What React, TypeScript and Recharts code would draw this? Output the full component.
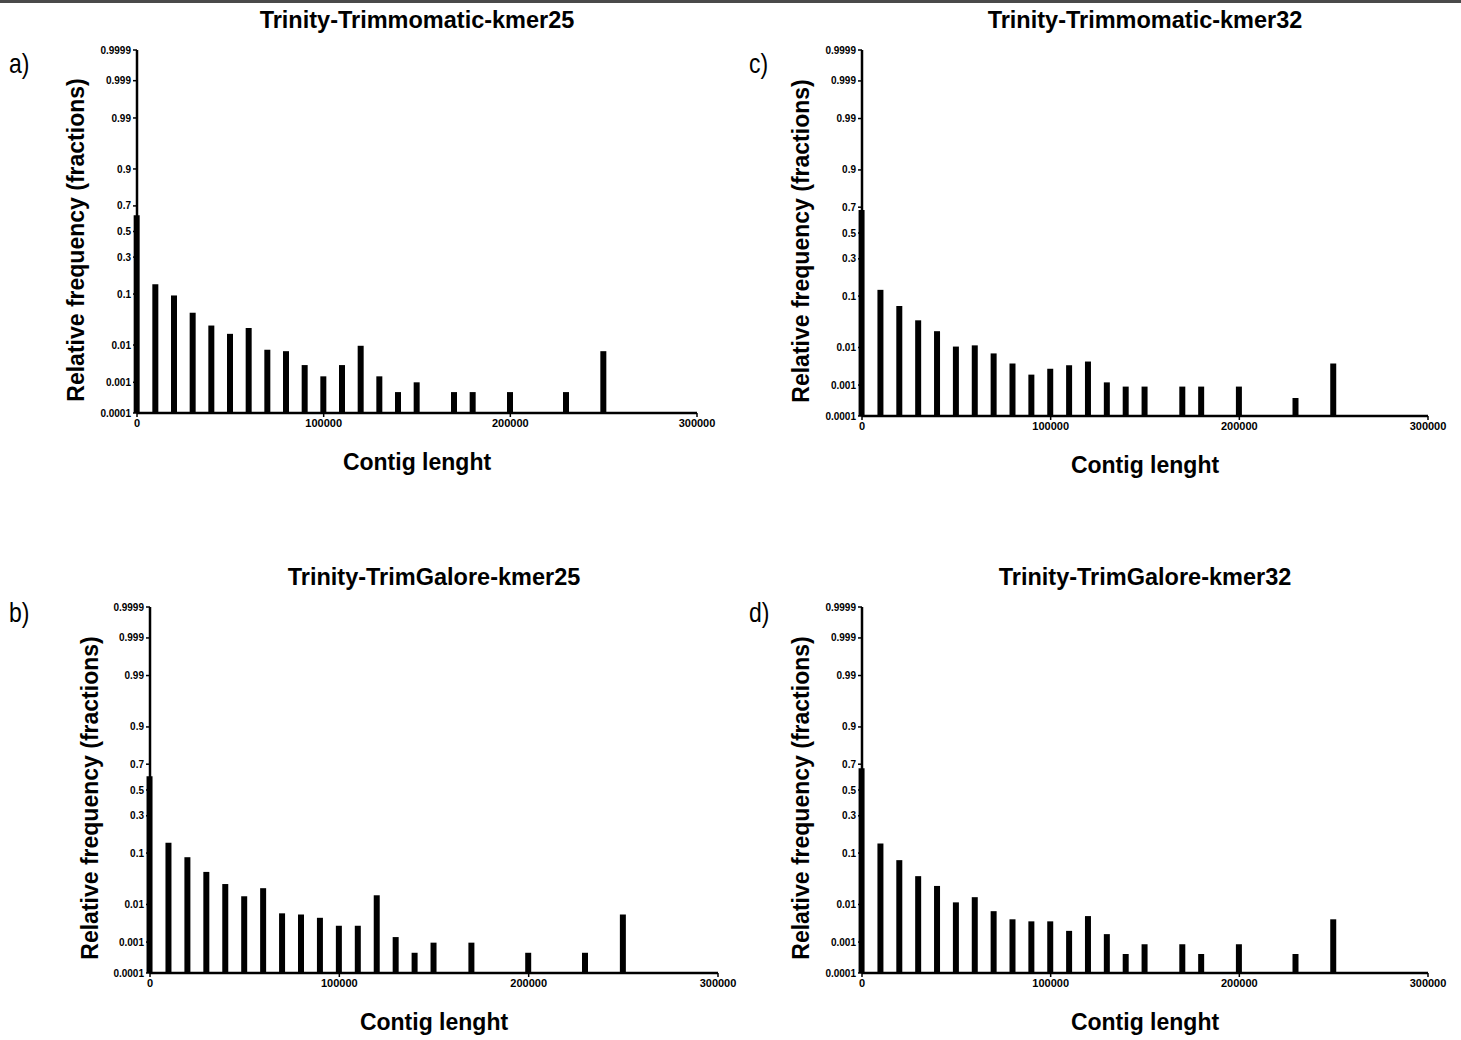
import { BarChart, Bar, XAxis, YAxis } from 'recharts';

// contig length bins (x), 10 kb steps
const BINS = [
  0, 10000, 20000, 30000, 40000, 50000, 60000, 70000, 80000, 90000, 100000,
  110000, 120000, 130000, 140000, 150000, 160000, 170000, 180000, 190000,
  200000, 210000, 220000, 230000, 240000, 250000,
];

// relative frequency per bin (null = empty bin)
const TRIMMOMATIC_K25 = [
  0.63, 0.14, 0.095, 0.048, 0.027, 0.018, 0.024, 0.0077, 0.0071, 0.0031, 0.0015,
  0.0031, 0.0096, 0.0015, 0.0005, 0.001, null, 0.0005, 0.0005, null,
  0.0005, null, null, 0.0005, null, 0.0071,
];
const TRIMMOMATIC_K32 = [
  0.68, 0.124, 0.069, 0.038, 0.023, 0.0105, 0.0112, 0.0072, 0.004, 0.002, 0.0029,
  0.0036, 0.0045, 0.0012, 0.0009, 0.0009, null, 0.0009, 0.0009, null,
  0.0009, null, null, 0.0004, null, 0.004,
];
const TRIMGALORE_K25 = [
  0.61, 0.142, 0.086, 0.048, 0.028, 0.0154, 0.023, 0.0061, 0.0057, 0.0047, 0.0029,
  0.0029, 0.0162, 0.0014, 0.00047, 0.00096, null, 0.00096, null, null,
  0.00047, null, null, 0.00047, null, 0.0057,
];
const TRIMGALORE_K32 = [
  0.67, 0.138, 0.077, 0.04, 0.0256, 0.0112, 0.0147, 0.0069, 0.0043, 0.0038, 0.0038,
  0.0021, 0.0052, 0.0017, 0.00043, 0.00086, null, 0.00086, 0.00043, null,
  0.00086, null, null, 0.00043, null, 0.0043,
];

const X_TICKS = [0, 100000, 200000, 300000];
const Y_TICK_LABELS = ['0.0001', '0.001', '0.01', '0.1', '0.3', '0.5', '0.7', '0.9', '0.99', '0.999', '0.9999'];

// inverse normal CDF (Acklam) -> probability axis
function probit(p: number) {
  const a = [-39.69683028665376, 220.9460984245205, -275.9285104469687, 138.357751867269, -30.66479806614716, 2.506628277459239];
  const b = [-54.47609879822406, 161.5858368580409, -155.6989798598866, 66.80131188771972, -13.28068155288572];
  const c = [-0.007784894002430293, -0.3223964580411365, -2.400758277161838, -2.549671010243, 4.374664141464968, 2.938163982698783];
  const d = [0.007784695709041462, 0.3224671290700398, 2.445134137142996, 3.754408661907416];
  const plow = 0.02425;
  if (p < plow) {
    const q = Math.sqrt(-2 * Math.log(p));
    return (((((c[0] * q + c[1]) * q + c[2]) * q + c[3]) * q + c[4]) * q + c[5]) /
      ((((d[0] * q + d[1]) * q + d[2]) * q + d[3]) * q + 1);
  }
  if (p <= 1 - plow) {
    const q = p - 0.5;
    const r = q * q;
    return ((((((a[0] * r + a[1]) * r + a[2]) * r + a[3]) * r + a[4]) * r + a[5]) * q) /
      (((((b[0] * r + b[1]) * r + b[2]) * r + b[3]) * r + b[4]) * r + 1);
  }
  const q = Math.sqrt(-2 * Math.log(1 - p));
  return -(((((c[0] * q + c[1]) * q + c[2]) * q + c[3]) * q + c[4]) * q + c[5]) /
    ((((d[0] * q + d[1]) * q + d[2]) * q + d[3]) * q + 1);
}

const Y_TICKS = Y_TICK_LABELS.map((l) => probit(Number(l)));
const Y_MIN = Y_TICKS[0];
const Y_MAX = Y_TICKS[Y_TICKS.length - 1];

const FONT = '"Liberation Sans", Arial, Helvetica, sans-serif';

interface PanelProps {
  letter: string;
  title: string;
  values: (number | null)[];
  x0: number;
  x1: number;
  y0: number;
  y1: number;
  letterX: number;
  letterY: number;
  yTitleX: number;
}

function Panel({ letter, title, values, x0, x1, y0, y1, letterX, letterY, yTitleX }: PanelProps) {
  const data = BINS.map((len, i) => ({ len, freq: values[i] })).filter(
    (d) => d.freq !== null
  );
  const cx = (x0 + x1) / 2;
  return (
    <>
      <div
        style={{
          position: 'absolute',
          left: letterX,
          top: letterY,
          fontFamily: FONT,
          fontSize: 28,
          transform: 'scaleX(0.82)',
          transformOrigin: 'left top',
          lineHeight: 1,
        }}
      >
        {letter}
      </div>
      <div
        style={{
          position: 'absolute',
          left: cx,
          top: y0 - 41,
          transform: 'translateX(-50%)',
          fontFamily: FONT,
          fontWeight: 'bold',
          fontSize: 23.5,
          whiteSpace: 'nowrap',
          lineHeight: 1,
        }}
      >
        {title}
      </div>
      <div
        style={{
          position: 'absolute',
          left: yTitleX,
          top: (y0 + y1) / 2 + 3,
          transform: 'translate(-50%, -50%) rotate(-90deg)',
          fontFamily: FONT,
          fontWeight: 'bold',
          fontSize: 23,
          whiteSpace: 'nowrap',
          lineHeight: 1,
        }}
      >
        Relative frequency (fractions)
      </div>
      <div
        style={{
          position: 'absolute',
          left: cx,
          top: y1 + 28,
          transform: 'translateX(-50%)',
          fontFamily: FONT,
          fontWeight: 'bold',
          fontSize: 23,
          whiteSpace: 'nowrap',
          lineHeight: 1,
        }}
      >
        Contig lenght
      </div>
      <div style={{ position: 'absolute', left: x0 - 60, top: y0 - 10 }}>
        <BarChart
          width={x1 - x0 + 90}
          height={y1 - y0 + 40}
          data={data}
          margin={{ top: 10, right: 30, left: 10, bottom: 10 }}
        >
          <XAxis
            dataKey="len"
            type="number"
            domain={[0, 300000]}
            ticks={X_TICKS}
            height={30}
            axisLine={{ stroke: '#000', strokeWidth: 2.5 }}
            tickLine={{ stroke: '#000', strokeWidth: 1.5 }}
            tickSize={4}
            tick={{ fill: '#000', fontSize: 11, fontWeight: 'bold', fontFamily: FONT }}
          />
          <YAxis
            type="number"
            domain={[Y_MIN, Y_MAX]}
            ticks={Y_TICKS}
            interval={0}
            width={50}
            axisLine={{ stroke: '#000', strokeWidth: 2.5 }}
            tickLine={{ stroke: '#000', strokeWidth: 1.5 }}
            tickSize={4}
            tick={{ fill: '#000', fontSize: 10, fontWeight: 'bold', fontFamily: FONT }}
            tickFormatter={(v: number) => {
              let best = 0;
              Y_TICKS.forEach((t, i) => {
                if (Math.abs(t - v) < Math.abs(Y_TICKS[best] - v)) best = i;
              });
              return Y_TICK_LABELS[best];
            }}
          />
          <Bar
            dataKey={(d: { freq: number }) => [Y_MIN, probit(d.freq)]}
            fill="#000"
            barSize={6}
            isAnimationActive={false}
          />
        </BarChart>
      </div>
    </>
  );
}

export default function App() {
  return (
    <div
      style={{
        position: 'absolute',
        left: 0,
        top: 0,
        width: 1461,
        height: 1040,
        background: '#fff',
        overflow: 'hidden',
      }}
    >
      <div
        style={{
          position: 'absolute',
          left: 0,
          top: 0,
          width: 1461,
          height: 3,
          background: '#4a4a4a',
        }}
      />
      <Panel
        letter="a)"
        title="Trinity-Trimmomatic-kmer25"
        values={TRIMMOMATIC_K25}
        x0={137}
        x1={697}
        y0={50}
        y1={423}
        letterX={9}
        letterY={50}
        yTitleX={76}
      />
      <Panel
        letter="c)"
        title="Trinity-Trimmomatic-kmer32"
        values={TRIMMOMATIC_K32}
        x0={862}
        x1={1428}
        y0={50}
        y1={426}
        letterX={749}
        letterY={50}
        yTitleX={801}
      />
      <Panel
        letter="b)"
        title="Trinity-TrimGalore-kmer25"
        values={TRIMGALORE_K25}
        x0={150}
        x1={718}
        y0={607}
        y1={983}
        letterX={9}
        letterY={599}
        yTitleX={90}
      />
      <Panel
        letter="d)"
        title="Trinity-TrimGalore-kmer32"
        values={TRIMGALORE_K32}
        x0={862}
        x1={1428}
        y0={607}
        y1={983}
        letterX={749}
        letterY={599}
        yTitleX={801}
      />
    </div>
  );
}
